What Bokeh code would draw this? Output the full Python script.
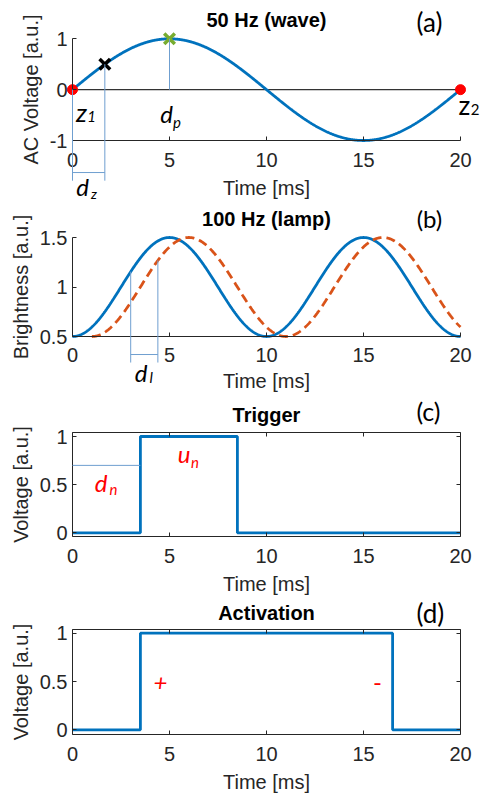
import numpy as np
from bokeh.plotting import figure
from bokeh.layouts import column
from bokeh.models import Label, Arrow, FixedTicker, Range1d, LinearAxis
from bokeh.embed import file_html
from bokeh.resources import INLINE

# ---------------- data ----------------
time_ticks = [0, 5, 10, 15, 20]
wave_freq_hz = 50          # panel (a): 50 Hz mains wave
wave_amp = 1.0
lamp_mean = 1.0            # panel (b): brightness between 0.5 and 1.5
lamp_amp = 0.5
lamp_delay_ms = 1.0        # dashed (delayed) lamp curve
zero_t = [0, 20]           # z1, z2 zero crossings
zero_v = [0, 0]
sample_t = [1.667]         # black x
sample_v = [0.5]
peak_t = [5]               # green x (d_p)
peak_v = [1]
dl_t = [3.0, 4.4]          # d_l bracket
trigger_t = [0, 3.5, 8.5, 20]
trigger_v = [0, 1, 0, 0]
dn_level = 0.7
activation_t = [0, 3.5, 16.5, 20]
activation_v = [0, 1, 0, 0]

t = np.linspace(0, 20, 801)
wave_v = wave_amp * np.sin(2 * np.pi * wave_freq_hz * t / 1000)
lamp_v = lamp_mean - lamp_amp * np.cos(2 * np.pi * 2 * wave_freq_hz * t / 1000)
t_del = t[t >= lamp_delay_ms]
lamp_del_v = lamp_mean - lamp_amp * np.cos(2 * np.pi * 2 * wave_freq_hz * (t_del - lamp_delay_ms) / 1000)

# ---------------- styling ----------------
BLUE = "#0072BD"
ORANGE = "#D95319"
GREEN = "#77AC30"
RED = "#FF0000"
GUIDE = "#6F9FD0"
AX = "#262626"
FONT = "Liberation Sans"
LFONT = "Lato"
W = 484
X0_PX, X20_PX = 72, 460     # pixel columns of t=0 and t=20


def x_range():
    s = 20.0 / (X20_PX - X0_PX)
    return Range1d(-X0_PX * s, 20 + (W - X20_PX) * s)


def y_range(H, p1, v1, p2, v2):
    s = (v1 - v2) / (p2 - p1)
    return Range1d(v1 - (H - p1) * s, v1 + p1 * s)


def style_axis(ax, labels=True):
    ax.major_tick_in = 4
    ax.major_tick_out = 0
    ax.minor_tick_line_color = None
    ax.axis_line_color = AX
    ax.axis_line_width = 1
    ax.major_tick_line_color = AX
    ax.major_label_text_font = FONT
    ax.major_label_text_font_size = "20px"
    ax.major_label_text_color = AX if labels else None
    if not labels:
        ax.major_label_text_alpha = 0
    ax.axis_label_text_font = FONT
    ax.axis_label_text_font_size = "20px"
    ax.axis_label_text_font_style = "normal"
    ax.axis_label_text_color = AX


def make(H, anchors, ybounds, yticks, overrides, ylabel, box, xs=(12, 7)):
    p = figure(width=W, height=H, x_range=x_range(), y_range=y_range(H, *anchors),
               output_backend="svg", toolbar_location=None, min_border=0)
    p.title.text = ""
    p.title.visible = False
    xa, ya = p.xaxis[0], p.yaxis[0]
    style_axis(xa)
    style_axis(ya)
    xa.ticker = FixedTicker(ticks=time_ticks)
    xa.bounds = (time_ticks[0], time_ticks[-1])
    xa.fixed_location = ybounds[0]
    xa.axis_label = "Time [ms]"
    xa.major_label_standoff = xs[0]
    xa.axis_label_standoff = xs[1]
    ya.ticker = FixedTicker(ticks=yticks)
    ya.major_label_overrides = overrides
    ya.bounds = ybounds
    ya.fixed_location = time_ticks[0]
    ya.axis_label = ylabel
    ya.major_label_standoff = 5
    ya.axis_label_standoff = 5
    if box:
        top = LinearAxis(ticker=FixedTicker(ticks=time_ticks), bounds=(time_ticks[0], time_ticks[-1]),
                         fixed_location=ybounds[1])
        style_axis(top, labels=False)
        p.add_layout(top, "above")
        right = LinearAxis(ticker=FixedTicker(ticks=yticks), bounds=ybounds,
                           fixed_location=time_ticks[-1])
        style_axis(right, labels=False)
        p.add_layout(right, "right")
    p.xgrid.visible = False
    p.ygrid.visible = False
    p.outline_line_color = None
    p.background_fill_color = "white"
    p.border_fill_color = "white"
    return p


def guide(p, x0, y0, x1, y1):
    p.add_layout(Arrow(end=None, x_start=x0, y_start=y0, x_end=x1, y_end=y1,
                       line_color=GUIDE, line_width=1))


def text(p, x, y, s, size, color="black", style="normal", font=LFONT):
    p.add_layout(Label(x=x, y=y, text=s, text_font=font, text_font_style=style,
                       text_font_size=f"{size}px", text_color=color,
                       text_align="center", text_baseline="middle"))


def sublabel(p, x, y, base, sub, sx, sy, color="black", size=24, italic=True, subsize=15):
    style = "italic" if italic else "normal"
    text(p, x, y, base, size, color, style)
    text(p, sx, sy, sub, subsize, color, style)


def title(p, y, s):
    text(p, 10, y, s, 20, "black", "bold", FONT)


# ---------------- panel (a) ----------------
pa = make(202, (38.3, 1, 140, -1), (-1, 1), [-1, 0, 1], {-1: "-1", 0: "0", 1: "1"},
          "AC Voltage [a.u.]", False)
pa.line([time_ticks[0], time_ticks[-1]], [0, 0], line_color="#333333", line_width=1.2)
guide(pa, peak_t[0], peak_v[0], peak_t[0], 0)
guide(pa, sample_t[0], sample_v[0], sample_t[0], -1.79)
guide(pa, zero_t[0], zero_v[0], zero_t[0], -1.79)
guide(pa, zero_t[0], -1.63, sample_t[0], -1.63)
pa.line(t, wave_v, line_color=BLUE, line_width=2.8)
pa.scatter(zero_t, zero_v, marker="circle", size=10, color=RED)
pa.scatter(sample_t, sample_v, marker="x", size=15, line_width=3.5, color="black")
pa.scatter(peak_t, peak_v, marker="x", size=15, line_width=3.5, color=GREEN)
sublabel(pa, 0.46, -0.43, "z", "1", 0.98, -0.53, size=26)
sublabel(pa, 4.85, -0.47, "d", "p", 5.39, -0.63)
sublabel(pa, 20.2, -0.31, "z", "2", 20.75, -0.40, size=26, italic=False)
sublabel(pa, 0.52, -1.914, "d", "z", 1.11, -2.04, subsize=14)
title(pa, 1.36, "50 Hz (wave)")
text(pa, 18.4, 1.34, "(a)", 26)

# ---------------- panel (b) ----------------
pb = make(195, (35, 1.5, 134, 0.5), (0.5, 1.5), [0.5, 1, 1.5], {0.5: "0.5", 1: "1", 1.5: "1.5"},
          "Brightness [a.u.]", False, xs=(11, 5))
top0 = float(np.interp(dl_t[0], t, lamp_v))
top1 = float(np.interp(dl_t[1], t_del, lamp_del_v))
guide(pb, dl_t[0], top0, dl_t[0], 0.237)
guide(pb, dl_t[1], top1, dl_t[1], 0.237)
guide(pb, dl_t[0], 0.318, dl_t[1], 0.318)
pb.line(t, lamp_v, line_color=BLUE, line_width=2.8)
pb.line(t_del, lamp_del_v, line_color=ORANGE, line_width=2.8, line_dash="9 5")
sublabel(pb, 3.53, 0.14, "d", "l", 4.05, 0.09)
title(pb, 1.69, "100 Hz (lamp)")
text(pb, 18.4, 1.69, "(b)", 24)

# ---------------- panel (c) ----------------
pc = make(199, (39, 1, 135.3, 0), (-0.04, 1.045), [0, 0.5, 1], {0: "0", 0.5: "0.5", 1: "1"},
          "Voltage [a.u.]", True)
guide(pc, trigger_t[0], dn_level, trigger_t[1], dn_level)
pc.step(trigger_t, trigger_v, mode="after", line_color=BLUE, line_width=2.8)
sublabel(pc, 1.47, 0.52, "d", "n", 2.11, 0.45, color=RED)
sublabel(pc, 5.75, 0.82, "u", "n", 6.31, 0.74, color=RED)
title(pc, 1.22, "Trigger")
text(pc, 18.35, 1.26, "(c)", 25)

# ---------------- panel (d) ----------------
pd_ = make(200, (36.7, 1, 133.3, 0), (-0.05, 1.035), [0, 0.5, 1], {0: "0", 0.5: "0.5", 1: "1"},
           "Voltage [a.u.]", True)
pd_.step(activation_t, activation_v, mode="after", line_color=BLUE, line_width=2.8)
text(pd_, 4.54, 0.49, "+", 24, RED, "italic")
text(pd_, 15.72, 0.49, "-", 24, RED)
title(pd_, 1.21, "Activation")
text(pd_, 18.45, 1.21, "(d)", 26)

layout = column(pa, pb, pc, pd_, spacing=0)
open("out.html", "w").write(file_html(layout, INLINE))
